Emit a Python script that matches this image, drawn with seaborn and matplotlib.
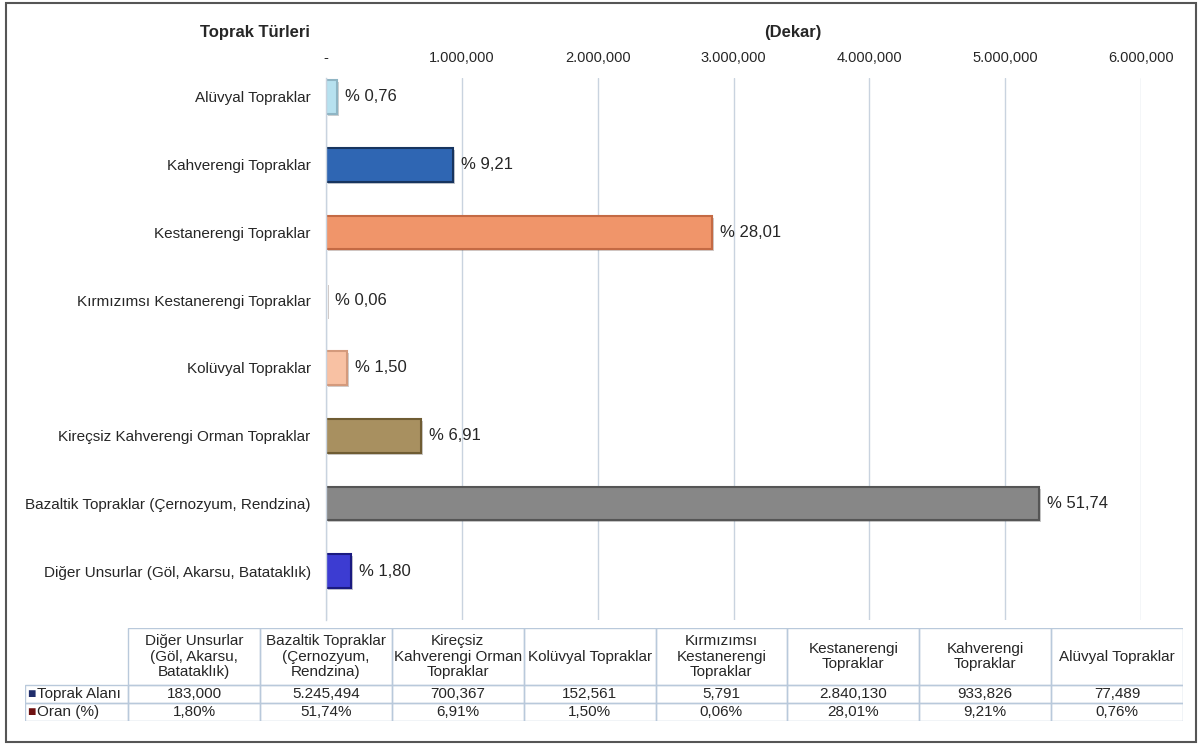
import numpy as np
import pandas as pd
import matplotlib
matplotlib.use("Agg")
import matplotlib.pyplot as plt
import matplotlib.patheffects as pe
from matplotlib.patches import Rectangle
import seaborn as sns

# veriler
categories = [
    "Alüvyal Topraklar",
    "Kahverengi Topraklar",
    "Kestanerengi Topraklar",
    "Kırmızımsı Kestanerengi Topraklar",
    "Kolüvyal Topraklar",
    "Kireçsiz Kahverengi Orman Topraklar",
    "Bazaltik Topraklar (Çernozyum, Rendzina)",
    "Diğer Unsurlar (Göl, Akarsu, Batataklık)",
]
areas = [77489, 933826, 2840130, 5791, 152561, 700367, 5245494, 183000]
shares = [0.76, 9.21, 28.01, 0.06, 1.50, 6.91, 51.74, 1.80]
bar_colors = ["#B7E1EF", "#2F66B3", "#F0956A", "#F0956A", "#F8C1A3",
              "#A89060", "#878787", "#3C3CD2"]
edge_colors = ["#8FB5C4", "#17345F", "#C46A44", "none", "#D49A7C",
               "#6F5C33", "#555555", "#1A1A80"]
x_ticks = [0, 1000000, 2000000, 3000000, 4000000, 5000000, 6000000]

# tablo (ters sıra)
table_headers = [
    "Diğer Unsurlar\n(Göl, Akarsu,\nBatataklık)",
    "Bazaltik Topraklar\n(Çernozyum,\nRendzina)",
    "Kireçsiz\nKahverengi Orman\nTopraklar",
    "Kolüvyal Topraklar",
    "Kırmızımsı\nKestanerengi\nTopraklar",
    "Kestanerengi\nTopraklar",
    "Kahverengi\nTopraklar",
    "Alüvyal Topraklar",
]
table_areas = areas[::-1]
table_shares = shares[::-1]
row_labels = ["Toprak Alanı", "Oran (%)"]
row_marker_colors = ["#1F2D6B", "#6E1010"]


def fmt_num(v):
    s = f"{int(v):,}"
    if s.count(",") > 1:
        s = s.replace(",", ".", 1)
    return s


def fmt_pct(p):
    return f"{p:.2f}".replace(".", ",")


sns.set_theme(style="white")
plt.rcParams['font.family'] = ['Liberation Sans', 'DejaVu Sans']

W, H = 1203, 744
fig = plt.figure(figsize=(W / 100, H / 100), dpi=100)
ax = fig.add_axes([326 / W, 1 - 620 / H, 815 / W, 542 / H])

df = pd.DataFrame({"tur": categories, "alan": areas})
sns.barplot(data=df, x="alan", y="tur", hue="tur", palette=bar_colors,
            saturation=1, width=0.5, legend=False, orient="h", ax=ax)

for patch, ec in zip(ax.patches, edge_colors):
    patch.set_edgecolor(ec)
    patch.set_linewidth(1.5)
    patch.set_path_effects([pe.SimplePatchShadow(offset=(1.5, -1.5), alpha=0.25),
                            pe.Normal()])

for i, (v, p) in enumerate(zip(areas, shares)):
    ax.annotate("% " + fmt_pct(p), xy=(v, i), xytext=(6, 0),
                textcoords="offset points", va="center", ha="left", fontsize=12)

ax.set_xlim(0, 6000000)
ax.set_ylim(7.72, -0.28)
ax.xaxis.tick_top()
ax.set_xticks(x_ticks)
ax.set_xticklabels(["-" if t == 0 else fmt_num(t) for t in x_ticks])
ax.tick_params(axis="x", length=0, pad=9.5, labelsize=10.5)
ax.tick_params(axis="y", length=0, pad=11, labelsize=11)
ax.set_xlabel("")
ax.set_ylabel("")
ax.grid(axis="x", color="#C9D3DF", lw=1)
ax.set_axisbelow(True)
for side in ["top", "right", "bottom"]:
    ax.spines[side].set_visible(False)
ax.spines["left"].set_color("#C9D3DF")
ax.spines["left"].set_linewidth(1)

fig.text(255 / W, 1 - 32 / H, "Toprak Türleri", ha="center", va="center",
         fontsize=12, weight="bold")
fig.text(793 / W, 1 - 32 / H, "(Dekar)", ha="center", va="center",
         fontsize=12, weight="bold")

# veri tablosu
tax = fig.add_axes([25 / W, 1 - 721 / H, 1158 / W, 93 / H])
tax.set_xlim(0, 1158)
tax.set_ylim(93, 0)
tax.axis("off")
lab_w = 103
col_w = (1158 - lab_w) / len(table_headers)
head_h = 57
row_h = 18
grid_c = "#B9C9DB"

for j, head in enumerate(table_headers):
    x0 = lab_w + j * col_w
    tax.add_patch(Rectangle((x0, 0), col_w, head_h, fill=False, ec=grid_c, lw=1))
    tax.text(x0 + col_w / 2, head_h / 2, head, ha="center", va="center",
             fontsize=11, linespacing=1.1)
    vals = [fmt_num(table_areas[j]), fmt_pct(table_shares[j]) + "%"]
    for r, val in enumerate(vals):
        y0 = head_h + r * row_h
        tax.add_patch(Rectangle((x0, y0), col_w, row_h, fill=False, ec=grid_c, lw=1))
        tax.text(x0 + col_w / 2, y0 + row_h / 2, val, ha="center", va="center",
                 fontsize=11)

for r, (lab, mc) in enumerate(zip(row_labels, row_marker_colors)):
    y0 = head_h + r * row_h
    tax.add_patch(Rectangle((0, y0), lab_w, row_h, fill=False, ec=grid_c, lw=1))
    tax.text(2, y0 + row_h / 2, "■", color=mc, ha="left", va="center", fontsize=10)
    tax.text(12, y0 + row_h / 2, lab, ha="left", va="center", fontsize=11)

fig.patches.append(Rectangle((6 / W, 2 / H), 1190 / W, 739 / H,
                             transform=fig.transFigure, fill=False,
                             ec="#555555", lw=1.5))

fig.savefig("out.png", dpi=100)
